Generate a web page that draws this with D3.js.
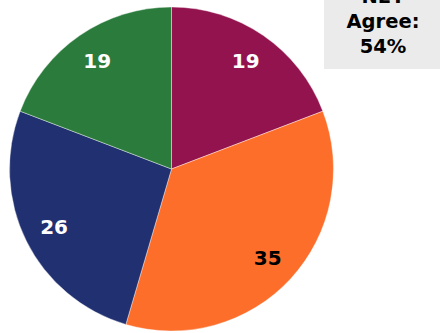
<!DOCTYPE html>
<html>
<head>
<meta charset="utf-8">
<script src="https://cdn.jsdelivr.net/npm/d3@7"></script>
<style>
  html, body { margin: 0; padding: 0; background: #ffffff; }
  svg { display: block; }
  text { font-family: "DejaVu Sans", "Noto Sans", sans-serif; font-weight: 700; }
</style>
</head>
<body>
<svg id="chart" width="440" height="333"></svg>
<script>
// Share of responses, clockwise from 12 o'clock
const categories = ["Somewhat agree", "Strongly agree", "Disagree", "Neutral"];
const values = [19, 35, 26, 19];
const colors = ["#93134f", "#fe6e2b", "#213070", "#2b7c3c"];
const labelColors = ["#ffffff", "#000000", "#ffffff", "#ffffff"];
const calloutLines = ["NET", "Agree:", "54%"];

const svg = d3.select("#chart");
const cx = 171.5, cy = 169, radius = 162;

const pie = d3.pie().sort(null).value(d => d.value);
const arcs = pie(categories.map((c, i) => ({ category: c, value: values[i], i })));

const arc = d3.arc().innerRadius(0).outerRadius(radius);
const labelArc = d3.arc().innerRadius(131).outerRadius(131);

const g = svg.append("g").attr("transform", `translate(${cx},${cy})`);

g.selectAll("path")
  .data(arcs)
  .join("path")
  .attr("d", arc)
  .attr("fill", d => colors[d.data.i])
  .attr("stroke", "#ffffff")
  .attr("stroke-width", 0.4);

g.selectAll("text.value")
  .data(arcs)
  .join("text")
  .attr("class", "value")
  .attr("transform", d => `translate(${labelArc.centroid(d)})`)
  .attr("text-anchor", "middle")
  .attr("dy", "0.36em")
  .attr("font-size", 20)
  .attr("fill", d => labelColors[d.data.i])
  .text(d => d.data.value);

// NET callout box in the top-right corner
const box = svg.append("g");
box.append("rect")
  .attr("x", 324).attr("y", -10)
  .attr("width", 130).attr("height", 79)
  .attr("fill", "#ebebeb");
box.selectAll("text")
  .data(calloutLines)
  .join("text")
  .attr("x", 383)
  .attr("y", (d, i) => 2.7 + i * 25)
  .attr("text-anchor", "middle")
  .attr("font-size", 19.5)
  .attr("fill", "#000000")
  .text(d => d);
</script>
</body>
</html>
